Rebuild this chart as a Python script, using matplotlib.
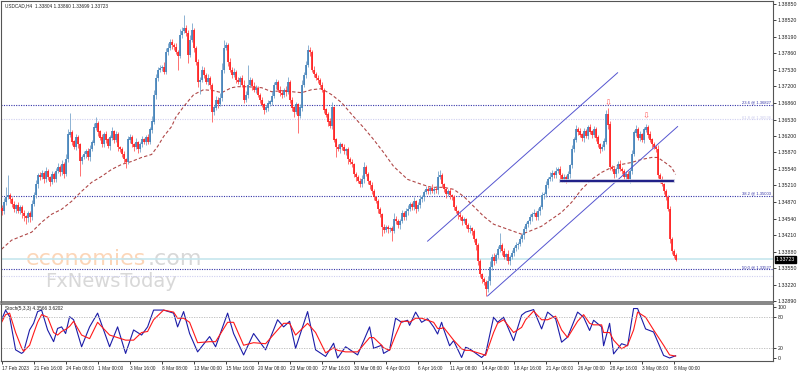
import numpy as np
import matplotlib
matplotlib.use("Agg")
import matplotlib.pyplot as plt

plt.rcParams["font.family"] = ["Liberation Sans", "DejaVu Sans"]

# USDCAD H4 closes, in pips above 1.3000
closes_pips = [
    469,487,497,501,493,483,473,481,469,477,465,459,455,465,457,483,501,523,541,537,
    545,533,549,537,527,543,533,549,557,547,563,543,573,623,627,609,597,617,603,569,
    577,583,589,577,593,607,637,645,629,617,603,623,613,599,617,629,613,623,597,593,
    583,573,567,613,617,603,597,607,593,603,613,609,617,609,633,649,703,737,753,757,
    759,749,789,797,809,803,799,789,781,823,831,837,827,783,813,833,797,769,729,733,
    753,743,729,737,723,669,677,693,685,697,753,797,803,769,753,743,749,733,729,737,
    723,693,703,723,733,721,713,717,703,693,683,673,677,685,689,701,723,729,713,707,
    703,713,709,729,693,677,669,683,661,677,723,743,763,793,789,753,745,737,733,723,
    713,673,663,649,641,677,613,597,593,603,597,589,593,573,567,563,543,537,529,523,
    533,557,543,529,521,509,497,489,473,463,437,431,437,433,435,429,453,449,441,449,
    465,457,469,473,483,477,489,473,481,493,497,507,513,509,515,509,513,511,537,541,
    523,513,503,509,501,497,477,469,461,457,449,453,441,433,435,429,413,401,369,343,
    333,327,313,329,357,377,369,381,393,401,389,377,383,369,377,385,395,401,403,413,
    421,433,443,449,457,463,465,457,469,477,501,503,521,533,537,545,541,549,553,541,
    533,537,533,543,561,593,613,633,629,623,617,629,621,637,629,623,633,617,603,593,
    597,609,663,643,557,553,543,553,563,553,549,537,543,533,549,583,627,633,617,623,
    613,633,637,623,613,603,597,593,541,533,523,509,497,473,413,389,380,372]
first_open = 475
upper_wick = [
    6,8,20,40,5,4,6,3,7,5,4,6,3,5,4,8,6,9,5,7,
    6,4,8,5,3,7,5,6,9,4,8,5,10,12,40,6,4,8,5,3,
    5,7,4,6,8,5,9,14,6,4,7,5,8,3,6,9,4,7,5,3,
    4,6,3,8,7,5,4,9,3,6,7,4,5,8,6,12,10,8,5,6,
    4,9,7,10,6,5,4,8,3,12,8,25,6,5,9,14,4,3,5,6,
    8,5,4,7,3,4,6,8,5,9,14,16,6,4,7,5,8,4,6,3,
    5,10,7,40,6,4,8,5,3,4,6,3,5,7,4,9,6,5,4,7,
    5,3,8,10,4,6,3,5,4,7,9,5,8,10,6,4,7,3,5,4,
    6,3,4,5,8,12,4,3,6,5,4,7,3,5,4,6,3,5,4,6,
    8,10,4,5,3,6,4,3,5,4,3,6,4,5,3,4,12,6,4,5,
    7,4,6,8,5,4,9,3,6,8,5,4,7,6,5,8,4,6,12,10,
    4,3,5,4,6,3,4,5,3,6,4,5,3,4,6,3,4,3,5,4,
    3,5,4,10,12,6,8,5,7,25,4,6,3,8,5,6,4,7,5,6,
    4,6,5,3,7,4,8,5,6,4,6,5,8,4,10,6,5,8,4,6,
    5,7,4,6,3,8,6,9,5,7,4,8,6,5,7,4,8,6,5,4,
    6,8,10,14,8,5,7,4,6,9,5,4,7,6,5,8,6,10,5,7,
    4,6,8,5,7,4,6,5,8,4,6,3,5,4,6,5,4,6]
lower_wick = [
    8,5,6,4,7,6,5,8,4,6,10,9,12,8,10,5,4,6,8,5,
    4,7,5,6,8,4,6,5,3,7,5,8,4,6,5,8,4,6,7,30,
    6,4,8,5,7,4,6,5,8,4,6,5,7,4,8,5,6,4,8,6,
    5,8,12,4,6,5,8,4,7,5,6,4,8,5,4,6,5,8,6,4,
    6,5,4,7,5,8,6,4,28,5,6,4,7,16,5,4,8,6,10,25,
    5,7,4,6,8,20,6,4,8,5,7,6,4,8,5,6,4,7,5,8,
    4,6,5,7,4,8,5,6,4,7,5,8,4,6,5,7,4,8,5,6,
    6,4,8,5,7,6,10,5,35,4,6,5,7,4,8,5,6,4,7,5,
    4,6,5,8,4,6,5,20,4,7,5,6,8,10,4,6,5,8,4,6,
    5,7,4,6,8,5,6,4,7,5,18,6,4,8,5,20,4,6,5,8,
    4,6,5,7,4,6,5,8,4,6,5,7,4,6,5,4,6,5,8,4,
    6,5,7,4,8,5,6,4,7,5,8,4,6,5,7,8,6,10,8,6,
    7,5,14,6,8,5,7,4,6,5,8,4,6,5,7,4,6,5,8,4,
    5,7,4,6,5,8,4,6,5,7,4,8,5,6,4,7,5,6,4,8,
    6,5,7,4,8,5,6,4,7,5,6,8,4,6,5,7,4,6,5,8,
    4,6,5,8,6,4,7,5,8,4,6,5,7,4,8,6,4,7,5,6,
    5,7,4,6,5,8,4,6,5,7,4,6,5,4,8,6,5,2]

# dashed moving average, read at selected bars (pips above 1.3000)
ma_bars = [0,5,10,15,20,25,30,35,40,45,50,55,60,65,70,75,78,81,85,87,91,96,101,106,110,
           115,118,123,130,135,140,145,150,155,160,165,170,176,181,186,191,196,203,210,215,
           221,226,231,236,241,246,253,260,264,270,275,280,285,290,295,300,305,310,315,320,
           325,328,331,335,337]
ma_pips = [393,411,419,427,447,463,473,489,509,527,539,553,563,569,577,583,599,619,639,657,679,
           703,713,711,707,717,719,719,717,709,711,709,707,713,715,703,687,659,637,613,587,
           559,533,523,517,517,513,499,479,459,443,433,423,429,439,453,467,487,513,533,547,
           557,563,567,573,577,577,569,557,543]

# Stoch(5,3,3) main (blue) and signal (red), read at selected bars
st_bars = [0,2,4,7,10,11,14,16,18,20,23,26,28,30,32,34,36,40,44,48,54,58,62,66,70,73,76,81,
           86,88,91,94,98,104,107,113,116,121,126,132,138,141,144,147,153,157,162,166,168,
           172,178,184,186,190,191,194,197,
           200,203,204,207,210,213,216,218,220,221,224,226,230,232,234,240,242,246,248,251,
           256,260,262,266,270,273,277,280,283,288,291,294,296,300,301,304,306,310,313,316,
           318,322,326,331,334,337]
st_main = [75,94,81,16,9,12,55,68,91,94,55,32,58,61,48,81,75,22,61,88,22,61,9,55,45,61,94,94,
           88,61,91,48,12,42,22,88,48,6,48,16,75,61,72,19,91,16,3,29,0,
           22,6,61,19,25,9,16,78,
           70,74,64,90,70,77,61,47,70,57,24,34,1,21,18,1,8,80,70,80,
           34,84,90,95,57,90,77,31,41,90,80,54,74,61,24,68,8,28,24,97,
           97,57,51,5,0,4.36]
st_signal = [70,85,88,50,20,13,25,48,70,85,80,50,45,52,56,62,72,45,38,70,45,40,35,35,50,52,75,94,
             90,78,78,70,30,32,32,70,70,25,30,28,55,68,68,45,68,50,10,20,15,
             12,12,40,40,25,20,15,45,
             72,72,70,78,78,74,70,58,58,60,45,35,18,15,15,8,5,50,68,75,
             50,60,75,92,75,75,82,55,40,72,85,68,65,65,50,50,35,18,25,55,
             90,80,55,25,6,3.62]

tick_bars = list(range(0, 337, 16))
tick_labels = ["17 Feb 2023", "21 Feb 16:00", "24 Feb 08:00", "1 Mar 00:00", "3 Mar 16:00",
               "8 Mar 08:00", "13 Mar 00:00", "15 Mar 16:00", "20 Mar 08:00", "23 Mar 00:00",
               "27 Mar 16:00", "30 Mar 08:00", "4 Apr 00:00", "6 Apr 16:00", "11 Apr 08:00",
               "14 Apr 00:00", "18 Apr 16:00", "21 Apr 08:00", "26 Apr 00:00", "28 Apr 16:00",
               "3 May 08:00", "8 May 00:00"]
price_ticks = [1.38850, 1.38520, 1.38190, 1.37860, 1.37530, 1.37200, 1.36860, 1.36530, 1.36200,
               1.35870, 1.35540, 1.35210, 1.34870, 1.34540, 1.34210, 1.33880, 1.33550, 1.33220,
               1.32890]
fib_levels = [1.36827, 1.35003, 1.33527]
fib_names = ["23.6 @ 1.36827", "38.2 @ 1.35003", "50.0 @ 1.33527"]
faint_levels = [1.36536, 1.33390]
last_price = 1.33723
header = "USDCAD,H4  1.33804 1.33860 1.33699 1.33723"
stoch_header = "Stoch(5,3,3) 4.3566 3.6202"

# channel / neckline endpoints (bar, price)
upper_chan = ([213, 308], [1.3409, 1.3747])
lower_chan = ([243, 338], [1.3299, 1.3639])
neck = ([279.5, 335.5], [1.3529, 1.3529])
tops = ([303, 322], [1.3677, 1.3651])

closes = np.array(closes_pips) / 1e4 + 1.3
opens = np.r_[first_open / 1e4 + 1.3, closes[:-1]]
highs = np.maximum(opens, closes) + np.array(upper_wick) / 1e4
lows = np.minimum(opens, closes) - np.array(lower_wick) / 1e4
x = np.arange(len(closes))

W, H = 798, 372
fig = plt.figure(figsize=(W / 100, H / 100), dpi=100)
ax = fig.add_axes([1 / W, 1 - 302 / H, 772 / W, 301 / H])
ax2 = fig.add_axes([1 / W, 1 - 361 / H, 772 / W, 57 / H])

bull = closes >= opens
body_col = np.where(bull, "#3f7fb8", "#ff1a1a")
wick_col = np.where(bull, "#7aa6cc", "#ff5a5a")
ax.vlines(x, lows, highs, colors=wick_col, lw=0.6, zorder=3)
ax.vlines(x, np.minimum(opens, closes), np.maximum(opens, closes) + 0.00003,
          colors=body_col, lw=1.2, zorder=4)

ax.plot(ma_bars, np.array(ma_pips) / 1e4 + 1.3, color="#b04848", lw=0.8,
        dashes=(3, 2), zorder=2)

for lv in fib_levels:
    ax.axhline(lv, color="#3434a8", lw=0.8, ls=(0, (1, 1.2)), zorder=1)
for lv in faint_levels:
    ax.axhline(lv, color="#cfcff0", lw=0.8, ls=(0, (1, 1.2)), zorder=1)
ax.axhline(last_price, color="#c6e6ee", lw=1.2, zorder=1)
yt = ax.get_yaxis_transform()
for lv, name in zip(fib_levels, fib_names):
    ax.text(0.998, lv + 0.00004, name, transform=yt, ha="right", va="bottom",
            fontsize=3.0, color="#3434a8")
ax.text(0.998, faint_levels[0] + 0.00004, "61.8 @ 1.36536", transform=yt, ha="right",
        va="bottom", fontsize=3.0, color="#c8c8ec")

ax.plot(*upper_chan, color="#5555d0", lw=0.7, zorder=5)
ax.plot(*lower_chan, color="#5555d0", lw=0.7, zorder=5)
ax.plot(*neck, color="#c0c0d8", lw=2.6, zorder=5)
ax.plot(*neck, color="#101080", lw=1.3, zorder=6)
for bx, by in zip(*tops):
    ax.text(bx, by, "\u21e9", ha="center", va="bottom", fontsize=6, color="#ff6060",
            family="DejaVu Sans", zorder=6)

# watermark
ax.text(25 / 772, 1 - 268 / 301, "economies", transform=ax.transAxes, fontsize=16,
        color="#fcd6b8", ha="left", va="bottom", family="DejaVu Sans", zorder=0)
ax.text(147 / 772, 1 - 268 / 301, ".com", transform=ax.transAxes, fontsize=16,
        color="#d8d8d8", ha="left", va="bottom", family="DejaVu Sans", zorder=0)
ax.text(44 / 772, 1 - 271 / 301, "FxNewsToday", transform=ax.transAxes, fontsize=14,
        color="#d8d8d8", ha="left", va="top", family="DejaVu Sans", zorder=0)

ax.text(4 / 772, 0.992, header, transform=ax.transAxes, fontsize=3.4, va="top", color="#222222")

ax.set_xlim(-0.3, 385.7)
ax.set_ylim(1.32869, 1.38910)
ax.set_xticks([])
ax.yaxis.tick_right()
ax.set_yticks(price_ticks)
ax.set_yticklabels(["%.5f" % v for v in price_ticks])
ax.tick_params(axis="y", labelsize=3.8, length=2, width=0.6, pad=1.5, colors="#222222")
for s in ["left", "top", "right"]:
    ax.spines[s].set_color("#555555")
    ax.spines[s].set_linewidth(0.8)
ax.spines["bottom"].set_color("#666666")
ax.spines["bottom"].set_linewidth(1.1)

ax.annotate("%.5f" % last_price, xy=(1.0, last_price), xycoords=yt,
            xytext=(2, 0), textcoords="offset points", fontsize=3.8, color="white",
            va="center", ha="left",
            bbox=dict(boxstyle="square,pad=0.2", fc="black", ec="black"))

# stochastic panel
ax2.plot(st_bars, st_main, color="#1c1ca8", lw=0.8)
ax2.plot(st_bars, st_signal, color="#ff1a1a", lw=0.8)
for lv in [80, 20]:
    ax2.axhline(lv, color="#b8b8b8", lw=0.6, ls=(0, (1.5, 1.5)))
ax2.text(4 / 772, 0.97, stoch_header, transform=ax2.transAxes, fontsize=3.4, va="top",
         color="#222222")
ax2.set_xlim(-0.3, 385.7)
ax2.set_ylim(-5.9, 105.9)
ax2.yaxis.tick_right()
ax2.set_yticks([100, 80, 20, 0])
ax2.set_yticklabels(["100", "80", "20", "0"])
ax2.tick_params(axis="y", labelsize=3.8, length=2, width=0.6, pad=1.5, colors="#222222")
ax2.set_xticks(tick_bars)
ax2.set_xticklabels(tick_labels, ha="left")
ax2.tick_params(axis="x", labelsize=3.4, length=2, width=0.6, pad=1.5, colors="#222222")
for s in ["left", "bottom", "right"]:
    ax2.spines[s].set_color("#555555")
    ax2.spines[s].set_linewidth(0.8)
ax2.spines["top"].set_color("#666666")
ax2.spines["top"].set_linewidth(1.1)

fig.savefig("out.png", dpi=100, facecolor="white")
